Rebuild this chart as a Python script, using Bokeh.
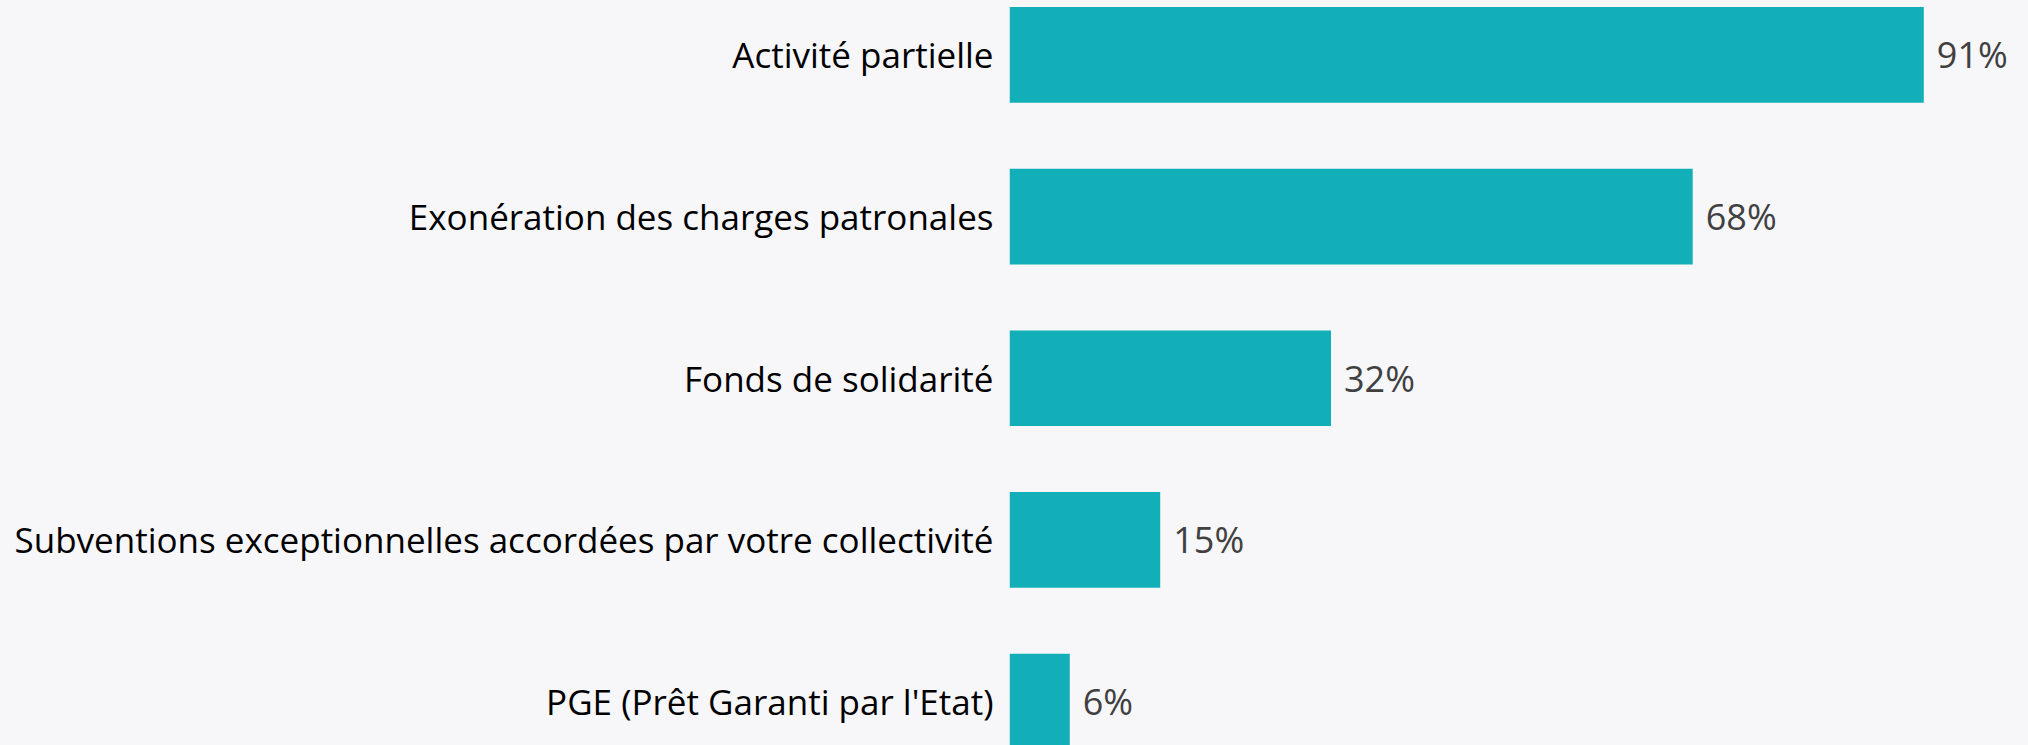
from bokeh.plotting import figure
from bokeh.models import Range1d, FixedTicker, ColumnDataSource, GlobalInlineStyleSheet
from bokeh.core.properties import value
from bokeh.embed import file_html
from bokeh.resources import INLINE

categories = [
    "Activité partielle",
    "Exonération des charges patronales",
    "Fonds de solidarité",
    "Subventions exceptionnelles accordées par votre collectivité",
    "PGE (Prêt Garanti par l'Etat)",
]
values = [91, 68, 32, 15, 6]
value_labels = [f"{v}%" for v in values]
positions = list(range(len(categories)))

BG = "#F7F6F9"
BAR = "#13AFB8"
FONT = "Open Sans"

src = ColumnDataSource(dict(y=positions, v=values, lab=value_labels))

p = figure(
    width=2028, height=745,
    output_backend="svg", toolbar_location=None,
    x_range=Range1d(0, 101.42),
    y_range=Range1d(4.271, -0.336),
    min_border_left=1009, min_border_right=0,
    min_border_top=0, min_border_bottom=0,
    background_fill_color=BG, border_fill_color=BG,
    stylesheets=[GlobalInlineStyleSheet(css=f"body{{background:{BG};}}")],
)
p.outline_line_color = None
p.grid.visible = False
p.xaxis.visible = False

p.hbar(y="y", left=0, right="v", height=0.592, color=BAR, line_color=None, source=src)
p.text(x="v", y="y", text="lab", source=src, x_offset=13,
       text_align="left", text_baseline="middle",
       text_font=value(FONT), text_font_size="36px", text_color="#404040")

ya = p.yaxis[0]
ya.ticker = FixedTicker(ticks=positions)
ya.major_label_overrides = {i: c for i, c in zip(positions, categories)}
ya.axis_line_color = None
ya.major_tick_line_color = None
ya.minor_tick_line_color = None
ya.major_tick_in = 0
ya.major_tick_out = 0
ya.major_label_standoff = 16
ya.major_label_text_font = FONT
ya.major_label_text_font_size = "35px"
ya.major_label_text_color = "#000000"

open("out.html", "w").write(file_html(p, INLINE))
